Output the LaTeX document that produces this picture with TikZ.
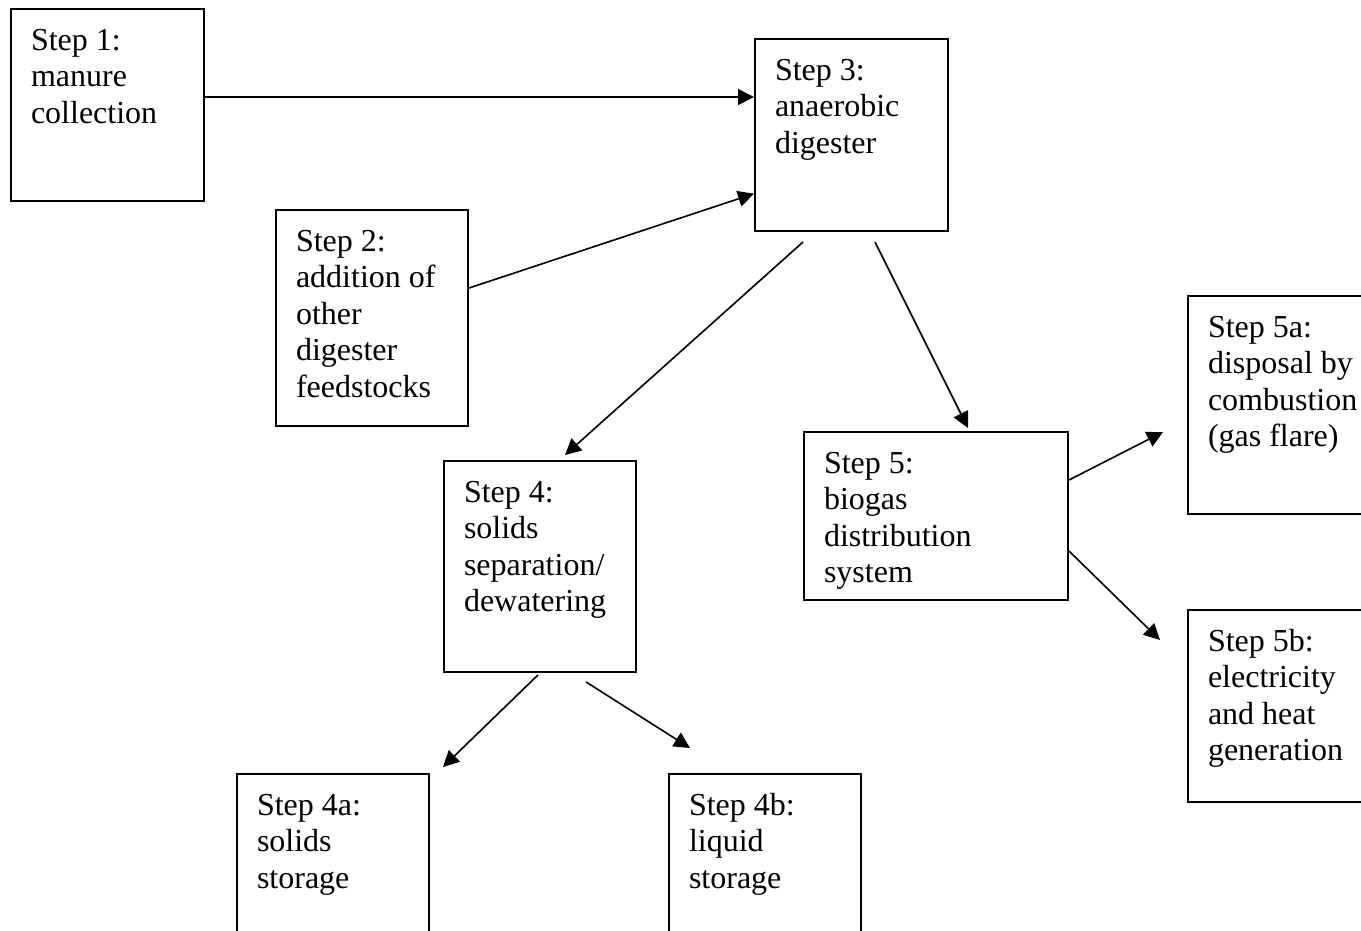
\documentclass[tikz,border=0pt]{standalone}
\usepackage{fontspec}
\setmainfont{Liberation Serif}
\usetikzlibrary{arrows.meta, positioning}

\tikzset{
  stepbox/.style={draw, line width=0.75pt, anchor=north west, align=flush left,
    inner xsep=7.5pt, inner ysep=0pt, text height=15.4pt,
    font=\fontsize{12pt}{13.7pt}\selectfont},
  flow/.style={line width=0.6pt, -{Triangle[length=6pt, width=6pt]}}
}

\begin{document}
\begin{tikzpicture}[x=0.375pt, y=-0.375pt]
        \useasboundingbox (0,0) rectangle (1361,930);
        % boxes
        \node[stepbox, text width=57.4pt, text depth=56.6pt] (s1) at (10,8) {Step 1:\\manure\\collection};
        \node[stepbox, text width=57.4pt, text depth=56.6pt] (s3) at (754,38) {Step 3:\\anaerobic\\digester};
        \node[stepbox, text width=57pt, text depth=65.6pt] (s2) at (275,209) {Step 2:\\addition of\\other\\digester\\feedstocks};
        \node[stepbox, text width=57pt, text depth=63.7pt] (s4) at (443,460) {Step 4:\\solids\\separation/\\dewatering};
        \node[stepbox, text width=84pt, text depth=47.6pt] (s5) at (803,431) {Step 5:\\biogas\\distribution\\system};
        \node[stepbox, text width=57.4pt, text depth=66.35pt] (s5a) at (1187,295) {Step 5a:\\disposal by\\combustion\\(gas flare)};
        \node[stepbox, text width=57.4pt, text depth=56.6pt] (s5b) at (1187,609) {Step 5b:\\electricity\\and heat\\generation};
        \node[stepbox, text width=57pt, text depth=56.6pt] (s4a) at (236,773) {Step 4a:\\solids\\storage};
        \node[stepbox, text width=57pt, text depth=56.6pt] (s4b) at (668,773) {Step 4b:\\liquid\\storage};
        % arrows
        \draw[flow] ([yshift=3pt]s1.east) coordinate (a1) -- (a1 -| s3.west);
        \draw[flow] ([yshift=11.25pt]s2.east) -- ([yshift=-22pt]s3.west);
        \draw[flow] ([shift={(49,10)}]s3.south west) -- ([shift={(122,-5)}]s4.north west);
        \draw[flow] ([shift={(121,10)}]s3.south west) -- ([shift={(165,-3)}]s5.north west);
        \draw[flow] ([shift={(0,49)}]s5.north east) -- ([shift={(-24,137)}]s5a.north west);
        \draw[flow] ([shift={(0,120)}]s5.north east) -- ([shift={(-27,31)}]s5b.north west);
        \draw[flow] ([shift={(95,2)}]s4.south west) -- ([shift={(207,-6)}]s4a.north west);
        \draw[flow] ([shift={(143,9)}]s4.south west) -- ([shift={(22,-25)}]s4b.north west);
    \end{tikzpicture}
\end{document}
